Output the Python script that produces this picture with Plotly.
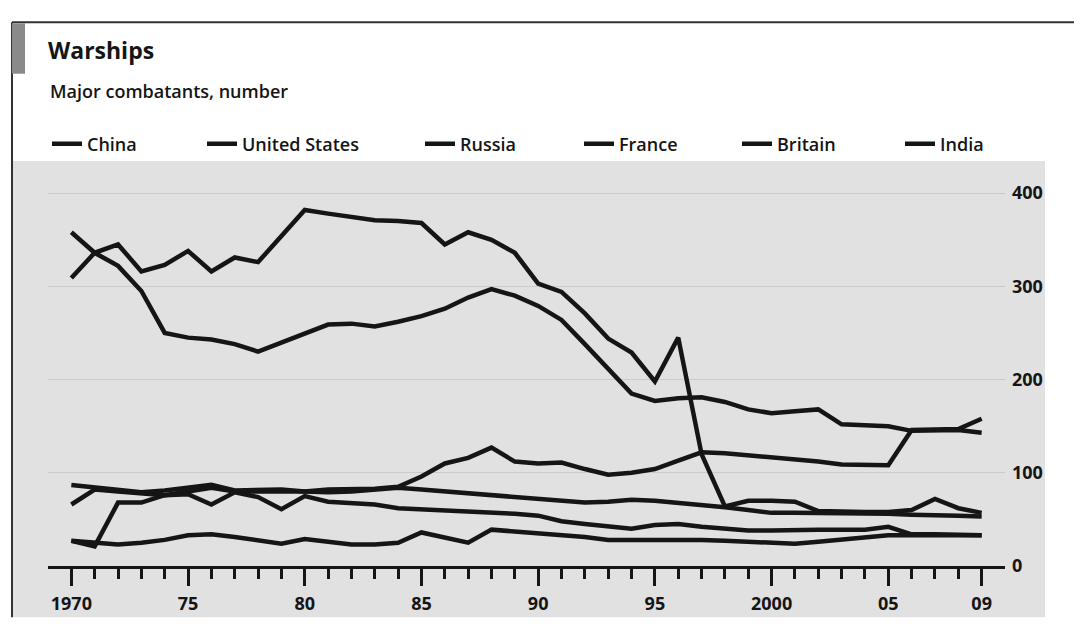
import plotly.graph_objects as go

# ---------------- data ----------------
years = list(range(1970, 2010))

china = [27, 21, 68, 68, 76, 80, 84, 80, 80, 80,
         80, 82, 82, 83, 85, 96, 110, 116, 127, 112,
         110, 111, 104, 98, 100, 104, 113, 122, 121, 119,
         116, 114, 112, 109, 108, 108, 146, 147, 147, 158]

united_states = [358, 336, 322, 295, 250, 245, 243, 238, 230, 240,
                 250, 259, 260, 257, 262, 268, 276, 288, 297, 290,
                 279, 264, 238, 212, 185, 177, 180, 181, 176, 168,
                 164, 166, 168, 152, 151, 150, 145, 146, 146, 143]

russia = [309, 336, 345, 316, 323, 338, 316, 331, 326, 354,
          382, 378, 374, 371, 370, 368, 345, 358, 350, 336,
          303, 294, 271, 244, 229, 198, 245, 120, 64, 70,
          70, 69, 59, 58, 58, 58, 60, 72, 62, 57]

france = [66, 82, 80, 78, 76, 77, 66, 79, 74, 61,
          75, 69, 67, 66, 62, 61, 59, 58, 57, 56,
          54, 48, 45, 42, 40, 44, 45, 42, 40, 38,
          38, 39, 39, 39, 39, 42, 34, 34, 33, 33]

britain = [87, 84, 82, 79, 81, 84, 87, 81, 82, 82,
           80, 79, 80, 82, 84, 82, 80, 77, 76, 74,
           72, 70, 68, 69, 71, 70, 68, 66, 63, 60,
           57, 57, 57, 57, 57, 56, 55, 55, 54, 53]

india = [27, 25, 23, 25, 28, 33, 34, 31, 27, 24,
         29, 26, 23, 23, 25, 36, 30, 25, 39, 37,
         35, 34, 31, 28, 28, 28, 29, 28, 27, 26,
         25, 24, 26, 28, 31, 33, 33, 33, 33, 33]

series_names = ["China", "United States", "Russia", "France", "Britain", "India"]
series_values = [china, united_states, russia, france, britain, india]

x_tick_vals = [1970, 1975, 1980, 1985, 1990, 1995, 2000, 2005, 2009]
x_tick_text = ["1970", "75", "80", "85", "90", "95", "2000", "05", "09"]
y_tick_vals = [0, 100, 200, 300, 400]
y_tick_text = ["0", "100", "200", "300", "400"]

# ---------------- layout helpers ----------------
W, H = 1074, 627
ML, MR, MT, MB = 48, 69, 170, 53
PW, PH = W - ML - MR, H - MT - MB


def px_x(px):
    return (px - ML) / PW


def px_y(py):
    return (H - MB - py) / PH


FONT = "Open Sans, Roboto, DejaVu Sans, sans-serif"
INK = "#151515"

fig = go.Figure()

legend_starts = [47, 202, 420, 579, 737, 900]

for i, (name, vals) in enumerate(zip(series_names, series_values)):
    lg = "legend" if i == 0 else f"legend{i + 1}"
    fig.add_trace(go.Scatter(
        x=years, y=vals, mode="lines", name=name,
        line=dict(color=INK, width=4.5),
        legend=lg, hoverinfo="x+y+name",
    ))

legends = {}
for i, start in enumerate(legend_starts):
    lg = "legend" if i == 0 else f"legend{i + 1}"
    legends[lg] = dict(
        x=start / W, y=1 - 144 / H, xref="container", yref="container",
        xanchor="left", yanchor="middle", orientation="h",
        bgcolor="rgba(0,0,0,0)", borderwidth=0,
        font=dict(family=FONT, size=18, color=INK, weight=600),
        itemwidth=30,
    )

shapes = [
    # speckled print background
    dict(type="rect", xref="paper", yref="paper",
         x0=px_x(13), x1=px_x(1045), y0=px_y(627), y1=px_y(156),
         fillcolor="#e1e1e1", line=dict(width=0), layer="below"),
    # frame: top and left rules
    dict(type="line", xref="paper", yref="paper",
         x0=px_x(12), x1=px_x(1074), y0=px_y(13), y1=px_y(13),
         line=dict(color="#333333", width=2)),
    dict(type="line", xref="paper", yref="paper",
         x0=px_x(12), x1=px_x(12), y0=px_y(13), y1=px_y(627),
         line=dict(color="#333333", width=2)),
    # corner tag
    dict(type="rect", xref="paper", yref="paper",
         x0=px_x(12), x1=px_x(25), y0=px_y(66), y1=px_y(14),
         fillcolor="#8a8a8a", line=dict(width=0)),
]

annotations = [
    dict(text="Major combatants, number", xref="paper", yref="paper",
         x=px_x(48), y=px_y(84), xanchor="left", yanchor="middle",
         showarrow=False,
         font=dict(family=FONT, size=18, color=INK, weight=600)),
]

fig.update_layout(
    width=W, height=H, autosize=False,
    margin=dict(l=ML, r=MR, t=MT, b=MB, pad=0),
    paper_bgcolor="white", plot_bgcolor="rgba(0,0,0,0)",
    title=dict(text="<b>Warships</b>", xref="container", yref="container",
               x=48 / W, y=1 - 51 / H, xanchor="left", yanchor="middle",
               font=dict(family=FONT, size=23, color=INK)),
    shapes=shapes, annotations=annotations,
    showlegend=True,
    **legends,
    xaxis=dict(
        range=[1969, 2010], showgrid=False, zeroline=False,
        showline=True, linecolor=INK, linewidth=3,
        ticks="outside", ticklen=17, tickwidth=3, tickcolor=INK,
        tickvals=x_tick_vals, ticktext=x_tick_text,
        tickfont=dict(family=FONT, size=18, color=INK, weight=700),
        ticklabelstandoff=2,
        minor=dict(tickvals=years, ticks="outside", ticklen=10,
                   tickwidth=3, tickcolor=INK, showgrid=False),
    ),
    yaxis=dict(
        range=[0, 420], side="right", zeroline=False, showline=False,
        showgrid=True, gridcolor="#cbcbcb", gridwidth=1,
        ticks="", tickvals=y_tick_vals, ticktext=y_tick_text,
        tickfont=dict(family=FONT, size=18, color=INK, weight=700),
        ticklabelstandoff=6,
    ),
)

fig.write_html(
    "out.html",
    config={"displayModeBar": False},
    post_script="document.body.style.margin='0px';document.body.style.padding='0px';",
)
